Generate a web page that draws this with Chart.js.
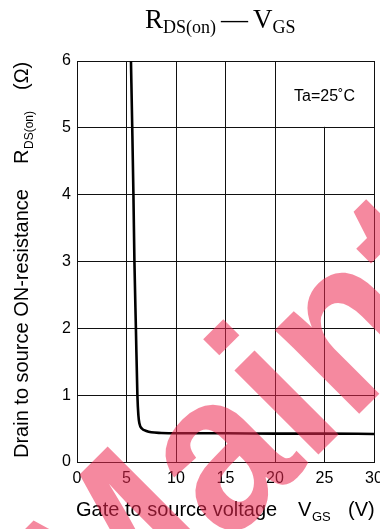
<!DOCTYPE html>
<html>
<head>
<meta charset="utf-8">
<script src="https://cdn.jsdelivr.net/npm/chart.js@4.4.0/dist/chart.umd.min.js"></script>
<style>
  html, body { margin: 0; padding: 0; background: #fff; }
  #wrap { width: 380px; height: 529px; position: relative; }
</style>
</head>
<body>
<div id="wrap"><canvas id="myChart"></canvas></div>
<script>
// R_DS(on) vs V_GS curve
const vgs = [5.45, 5.58, 5.7, 5.8, 5.95, 6.1, 6.2, 6.3, 6.55, 7.0, 7.5, 8.5, 10, 15, 20, 25, 30];
const rds = [6, 5, 4, 3, 2, 1, 0.7, 0.58, 0.5, 0.465, 0.445, 0.435, 0.43, 0.43, 0.425, 0.425, 0.42];

const xTicks = [0, 5, 10, 15, 20, 25, 30];
const yTicks = [0, 1, 2, 3, 4, 5, 6];

const note = 'Ta=25\u02daC';
const watermark = 'Maintenance';

const sans = '"Liberation Sans", Arial, sans-serif';
const serif = '"Liberation Serif", "Times New Roman", serif';

// titles with subscripts, the note and the watermark
const extras = {
    id: 'extras',
    beforeDatasetsDraw(chart) {
        const ctx = chart.ctx;
        const x = chart.scales.x, y = chart.scales.y;
        // the note sits in a clean cell (no grid line at 25 there)
        const l = x.getPixelForValue(20) + 1, r = x.getPixelForValue(30) - 1;
        const t = y.getPixelForValue(6) + 1, b = y.getPixelForValue(5) - 1;
        ctx.save();
        ctx.fillStyle = '#fff';
        ctx.fillRect(l, t, r - l, b - t);
        ctx.fillStyle = '#000';
        ctx.font = '16px ' + sans;
        ctx.textAlign = 'center';
        ctx.textBaseline = 'alphabetic';
        ctx.fillText(note, (l + r) / 2, t + 39);
        ctx.restore();
    },
    afterDraw(chart) {
        const ctx = chart.ctx;
        ctx.save();
        ctx.fillStyle = '#000';
        ctx.textBaseline = 'alphabetic';
        ctx.textAlign = 'left';

        // chart title: R_DS(on) — V_GS
        let px = 145;
        ctx.font = '27px ' + serif;
        ctx.fillText('R', px, 28);
        px += ctx.measureText('R').width;
        ctx.font = '18px ' + serif;
        ctx.fillText('DS(on)', px, 33);
        px += ctx.measureText('DS(on)').width + 5;
        ctx.font = '27px ' + serif;
        ctx.fillText('\u2014', px, 28);
        px += ctx.measureText('\u2014').width + 5;
        ctx.fillText('V', px, 28);
        px += ctx.measureText('V').width;
        ctx.font = '18px ' + serif;
        ctx.fillText('GS', px, 33);

        // x axis title
        ctx.font = '20px ' + sans;
        ctx.fillText('Gate to source voltage', 76, 516);
        ctx.fillText('V', 298, 516);
        ctx.fillText('(V)', 348, 516);
        ctx.font = '13px ' + sans;
        ctx.fillText('GS', 312, 521);

        // y axis title, rotated
        ctx.translate(28, 458);
        ctx.rotate(-Math.PI / 2);
        ctx.font = '20px ' + sans;
        ctx.fillText('Drain to source ON-resistance', 0, 0);
        ctx.fillText('R', 294, 0);
        ctx.fillText('(\u03a9)', 368, 0);
        ctx.font = '12px ' + sans;
        ctx.fillText('DS(on)', 309, 5);
        ctx.restore();

        // pink watermark
        ctx.save();
        ctx.translate(105, 668);
        ctx.rotate(-45 * Math.PI / 180);
        ctx.scale(0.92, 1);
        ctx.font = 'bold 225px ' + sans;
        ctx.fillStyle = 'rgba(236, 40, 80, 0.55)';
        ctx.fillText(watermark, 0, 0);
        ctx.restore();
    }
};

const ctx = document.getElementById('myChart').getContext('2d');
const myChart = new Chart(ctx, {
    type: 'line',
    data: {
        datasets: [{
            data: vgs.map((v, i) => ({ x: v, y: rds[i] })),
            borderColor: '#000',
            borderWidth: 2.6,
            pointRadius: 0,
            fill: false,
            cubicInterpolationMode: 'monotone'
        }]
    },
    options: {
        responsive: true,
        maintainAspectRatio: false,
        animation: false,
        layout: { padding: { top: 61, right: 6, left: 0, bottom: 0 } },
        plugins: {
            legend: { display: false },
            tooltip: { enabled: false }
        },
        scales: {
            x: {
                type: 'linear',
                min: 0,
                max: 30,
                afterBuildTicks: s => { s.ticks = xTicks.map(v => ({ value: v })); },
                afterFit: s => { s.height = 67; s.paddingLeft = 0; s.paddingRight = 0; },
                grid: { color: '#111', lineWidth: 1, drawTicks: false },
                border: { color: '#111', width: 1 },
                ticks: { color: '#000', font: { size: 16, family: sans }, padding: 7, maxRotation: 0 }
            },
            y: {
                min: 0,
                max: 6,
                afterBuildTicks: s => { s.ticks = yTicks.map(v => ({ value: v })); },
                afterFit: s => { s.width = 77; },
                grid: { color: '#111', lineWidth: 1, drawTicks: false },
                border: { color: '#111', width: 1 },
                ticks: { color: '#000', font: { size: 16, family: sans }, padding: 6 }
            }
        }
    },
    plugins: [extras]
});
</script>
</body>
</html>
